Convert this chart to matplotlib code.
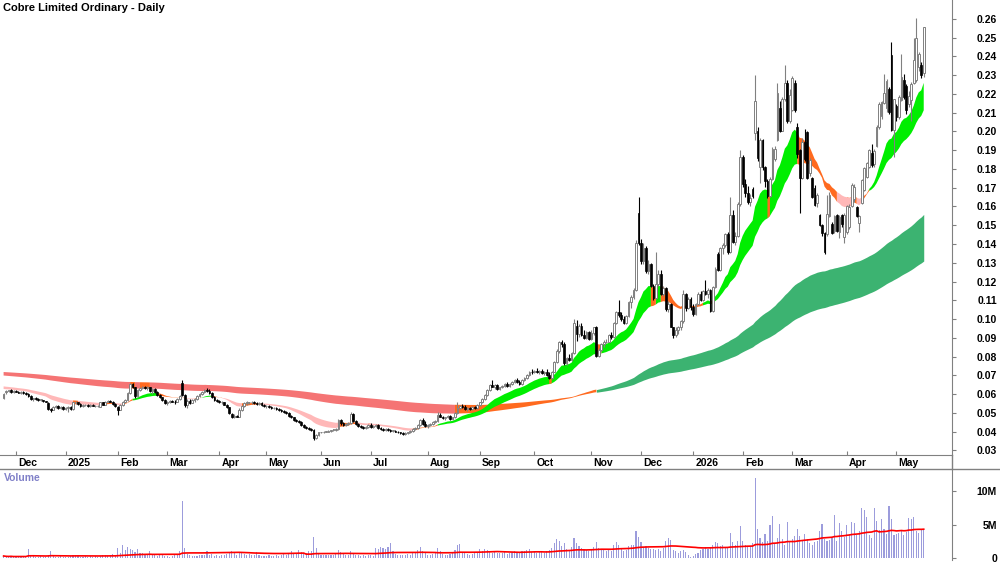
import numpy as np
import pandas as pd
import matplotlib
matplotlib.use("Agg")
import matplotlib.pyplot as plt
from matplotlib.lines import Line2D
from matplotlib.ticker import FuncFormatter

plt.rcParams['font.family'] = ['Liberation Sans', 'DejaVu Sans']
plt.rcParams['font.weight'] = 'bold'

title = "Cobre Limited Ordinary - Daily"

# ASX trading calendar for the period shown
asx_holidays = ["2024-12-25", "2024-12-26", "2025-01-01", "2025-01-27", "2025-04-18",
                "2025-04-21", "2025-04-25", "2025-06-09", "2025-12-25", "2025-12-26",
                "2026-01-01", "2026-01-26", "2026-04-03", "2026-04-06"]
dates = pd.bdate_range("2024-11-25", "2026-05-18", freq="C", holidays=asx_holidays)

# estimated closes before the first visible bar (only feed the moving averages)
prior_closes = [
    .076, .077, .076, .075, .076, .077, .076, .075, .074, .075,
    .076, .075, .074, .075, .076, .075, .074, .073, .074, .075,
    .074, .073, .074, .073, .072, .073, .074, .073, .072, .073,
    .073, .072, .071, .070, .071, .072, .071, .070, .071, .072,
    .071, .070, .071, .070, .069, .070, .071, .070, .069, .070,
    .070, .069, .068, .069, .068, .067, .068, .069, .068, .067,
    .068, .067, .068, .067, .066, .067, .068, .067, .066, .067,
    .068, .067, .066, .067, .066, .065, .066, .067, .066, .065,
    .066, .065, .066, .065, .064, .065, .066, .065, .064, .063,
    .064, .063, .064, .063, .062, .063, .062, .061, .062, .061,
]

opens = [
    .058, .061, .0615, .062, .061, .0615, .061, .0605, .061, .0605,
    .060, .059, .0575, .058, .0575, .057, .057, .0565, .055, .052,
    .0515, .053, .0535, .0525, .053, .052, .0525, .053, .052, .0555,
    .0555, .0545, .0535, .054, .054, .0535, .054, .0535, .0535, .053,
    .0555, .054, .056, .0565, .056, .0545, .053, .0515, .054, .056,
    .057, .0605, .0655, .0635, .059, .062, .063, .064, .063, .0635,
    .0615, .0625, .061, .0595, .0585, .057, .055, .0555, .0565, .056,
    .0555, .0575, .066, .0595, .054, .0565, .055, .057, .0575, .059,
    .060, .061, .062, .0615, .0605, .0585, .057, .0565, .0555, .0555,
    .054, .053, .0495, .048, .0485, .048, .0515, .0535, .055, .0555,
    .0555, .056, .055, .0545, .055, .054, .0535, .0535, .053, .0525,
    .0525, .052, .0515, .051, .0505, .050, .0485, .0475, .046, .0455,
    .045, .0435, .0425, .042, .0415, .041, .0365, .038, .0395, .0395,
    .040, .040, .0405, .041, .041, .0415, .046, .0445, .0435, .044,
    .0445, .0495, .0455, .044, .043, .0425, .042, .0425, .0435, .0425,
    .043, .0435, .042, .0415, .041, .0415, .041, .0405, .0405, .040,
    .0395, .039, .0385, .039, .0395, .0405, .0415, .042, .0435, .046,
    .044, .043, .0435, .044, .045, .0455, .049, .048, .047, .0475,
    .0485, .0465, .0475, .050, .0525, .0535, .053, .052, .0525, .052,
    .053, .0525, .054, .0555, .0575, .0595, .062, .065, .064, .065,
    .0625, .0635, .0645, .0655, .0645, .0655, .0665, .0675, .0665, .0655,
    .0675, .0685, .070, .072, .0715, .0725, .0715, .0725, .071, .072,
    .070, .0685, .072, .077, .083, .0875, .0865, .0765, .079, .078,
    .082, .0965, .092, .0965, .0915, .090, .093, .0895, .0925, .0955,
    .0805, .0835, .0865, .0875, .088, .0915, .0905, .098, .1035, .102,
    .100, .098, .1015, .109, .1115, .1155, .1565, .1405, .131, .138,
    .1255, .1295, .1175, .111, .1185, .124, .1135, .1165, .1055, .108,
    .096, .0915, .094, .0955, .099, .1135, .106, .1105, .1065, .1025,
    .108, .1135, .110, .115, .1135, .1155, .1045, .117, .1345, .126,
    .138, .1395, .1455, .1355, .1555, .141, .1445, .1615, .1865, .172,
    .167, .1625, .1695, .199, .2005, .181, .1955, .181, .1735, .1655,
    .1745, .1855, .1955, .2125, .2005, .2175, .226, .2055, .2115, .226,
    .2025, .190, .175, .1945, .1995, .178, .175, .170, .162, .1555,
    .150, .146, .1455, .155, .1505, .147, .1555, .1465, .1555, .144,
    .1465, .149, .160, .164, .1595, .151, .162, .169, .1755, .181,
    .1885, .1825, .192, .2025, .2085, .215, .2125, .2225, .2408, .2008,
    .2135, .2075, .217, .2275, .2245, .2145, .217, .226, .2275, .2345, .2355, .231,
]
highs = [
    .0605, .062, .062, .0625, .062, .062, .0615, .0615, .0615, .061,
    .0605, .0595, .058, .0585, .058, .0575, .057, .0565, .0555, .0525,
    .0535, .054, .054, .0535, .0535, .053, .0535, .0535, .056, .0565,
    .056, .055, .0545, .0545, .0545, .0545, .0545, .054, .054, .056,
    .056, .0565, .057, .057, .0565, .055, .0535, .0545, .0565, .0575,
    .061, .066, .066, .064, .0625, .0635, .0645, .0645, .0645, .064,
    .063, .063, .0615, .060, .0585, .0575, .0565, .057, .057, .057,
    .058, .0595, .0675, .060, .0575, .0575, .0575, .058, .0595, .0605,
    .0615, .0625, .063, .0625, .061, .059, .0575, .057, .0565, .056,
    .0545, .053, .050, .0495, .049, .0525, .054, .0555, .0565, .056,
    .0565, .0565, .0555, .0555, .0555, .0545, .054, .054, .0535, .053,
    .053, .0525, .052, .0515, .051, .0505, .049, .048, .0465, .046,
    .0455, .044, .043, .0425, .042, .0415, .0385, .040, .040, .0405,
    .0405, .041, .041, .0415, .042, .0465, .0465, .045, .0445, .045,
    .0505, .050, .046, .0445, .0435, .043, .043, .044, .0445, .0435,
    .044, .044, .0425, .042, .042, .042, .0415, .041, .041, .0405,
    .040, .0395, .0395, .040, .041, .042, .0425, .044, .0465, .047,
    .0455, .044, .0445, .0455, .046, .0505, .050, .0485, .048, .049,
    .049, .048, .0505, .0555, .054, .0545, .054, .053, .053, .0535,
    .0535, .0545, .056, .058, .060, .0625, .0655, .0675, .0655, .0655,
    .064, .065, .066, .0665, .066, .067, .068, .0685, .0675, .068,
    .069, .0705, .0725, .0735, .073, .074, .073, .0735, .0725, .0735,
    .0715, .0725, .0775, .084, .0885, .089, .0875, .080, .0815, .0825,
    .100, .0995, .0975, .098, .094, .0935, .0935, .094, .096, .0965,
    .0845, .087, .089, .0895, .092, .093, .0985, .1045, .110, .1035,
    .1015, .102, .1095, .113, .1165, .142, .165, .1425, .1405, .139,
    .1315, .130, .1185, .1355, .126, .126, .1175, .117, .1095, .1085,
    .096, .0955, .0965, .0995, .1155, .114, .112, .1115, .108, .1085,
    .1145, .115, .1155, .121, .1165, .116, .1175, .1275, .1355, .1385,
    .1405, .146, .1465, .165, .158, .1465, .1625, .190, .1875, .1745,
    .171, .1665, .1705, .230, .2025, .1965, .196, .1815, .1745, .1755,
    .1915, .192, .226, .2165, .2185, .2355, .2275, .2225, .2295, .2275,
    .2045, .1905, .1965, .2015, .2005, .186, .1755, .1715, .167, .156,
    .1505, .1465, .166, .1675, .1515, .1555, .156, .1555, .156, .1565,
    .161, .1615, .1725, .172, .160, .1555, .1745, .181, .1835, .1905,
    .1935, .1905, .2035, .2155, .2165, .2305, .228, .2235, .2477, .2175,
    .2145, .2195, .2415, .2305, .2255, .2215, .2265, .250, .2605, .2425, .237, .2557,
]
lows = [
    .0575, .060, .061, .0605, .0605, .061, .0605, .060, .060, .0595,
    .0585, .057, .0565, .057, .0565, .0565, .056, .0555, .0515, .0505,
    .0515, .0525, .052, .052, .0515, .0515, .0505, .0515, .0515, .0545,
    .054, .053, .053, .0535, .053, .053, .0535, .053, .053, .053,
    .054, .054, .0555, .0555, .054, .053, .049, .0515, .0535, .0555,
    .0565, .060, .063, .058, .0585, .0615, .0625, .0625, .062, .061,
    .060, .0605, .059, .058, .0565, .0545, .054, .055, .0555, .0545,
    .0555, .057, .059, .053, .0525, .0545, .055, .056, .057, .0585,
    .0595, .0605, .061, .060, .058, .0565, .056, .055, .0545, .054,
    .0525, .0495, .047, .047, .0475, .0475, .051, .053, .054, .0545,
    .0545, .0545, .054, .054, .0535, .053, .0525, .0525, .052, .052,
    .0515, .051, .0505, .050, .0495, .048, .047, .0455, .045, .0445,
    .043, .042, .0415, .041, .0405, .0355, .036, .0375, .039, .039,
    .0395, .0395, .040, .0405, .0405, .041, .0435, .043, .043, .0435,
    .044, .045, .0435, .0425, .042, .0415, .0415, .042, .042, .042,
    .0425, .0415, .041, .0405, .0405, .0405, .040, .0395, .0395, .039,
    .0385, .038, .038, .0385, .039, .040, .041, .0415, .043, .0435,
    .0425, .042, .043, .0435, .0445, .045, .0475, .0465, .046, .047,
    .046, .046, .047, .0495, .052, .0525, .0515, .051, .0515, .0515,
    .052, .052, .0535, .055, .057, .059, .0615, .0635, .0625, .062,
    .062, .063, .0635, .064, .064, .065, .066, .066, .065, .065,
    .067, .068, .0695, .0705, .071, .071, .0705, .0705, .070, .0695,
    .068, .068, .0715, .0765, .082, .085, .0755, .0755, .0775, .0775,
    .0815, .0885, .0905, .091, .0895, .0895, .089, .089, .0915, .0795,
    .080, .083, .085, .087, .0875, .0895, .090, .0975, .101, .099,
    .0975, .0975, .101, .106, .1105, .115, .1395, .1295, .1295, .1245,
    .124, .117, .110, .1105, .1175, .113, .1125, .1045, .1035, .0955,
    .090, .0905, .092, .094, .098, .1045, .1055, .105, .1015, .102,
    .1075, .1095, .1095, .113, .111, .1035, .104, .1165, .1255, .1255,
    .1345, .1385, .1345, .135, .1405, .1395, .1435, .1605, .1705, .165,
    .1615, .160, .1645, .1955, .1845, .1725, .1795, .1705, .1645, .165,
    .174, .1845, .195, .1995, .200, .2165, .2045, .2045, .211, .2105,
    .186, .1565, .1745, .184, .1745, .1765, .1645, .1605, .1595, .1495,
    .1445, .1345, .1445, .1545, .1455, .146, .1465, .143, .149, .1405,
    .1455, .148, .1595, .1625, .1545, .1465, .1615, .168, .175, .1805,
    .181, .181, .1915, .2015, .2065, .2145, .2105, .2095, .2005, .1865,
    .2055, .2065, .2165, .2175, .2095, .213, .2055, .2255, .2265, .232, .2285, .229,
]
closes = [
    .060, .0615, .062, .061, .0615, .061, .0605, .061, .0605, .060,
    .059, .0575, .058, .0575, .057, .057, .0565, .056, .052, .0515,
    .053, .0535, .0525, .053, .052, .0525, .053, .052, .0555, .0555,
    .0545, .0535, .054, .054, .0535, .054, .0535, .0535, .0535, .0555,
    .054, .056, .0565, .056, .0545, .0535, .0515, .054, .056, .057,
    .0605, .0655, .064, .059, .062, .063, .064, .063, .0635, .0615,
    .0625, .061, .0595, .0585, .057, .055, .0555, .0565, .056, .0555,
    .0575, .059, .0595, .054, .0565, .055, .057, .0575, .059, .060,
    .061, .062, .0615, .0605, .0585, .057, .0565, .0555, .0555, .054,
    .053, .050, .048, .0485, .048, .0515, .0535, .055, .0555, .0555,
    .056, .055, .0545, .055, .054, .0535, .0535, .053, .0525, .0525,
    .052, .0515, .051, .0505, .050, .0485, .0475, .046, .0455, .045,
    .0435, .0425, .042, .0415, .041, .0365, .038, .0395, .0395, .040,
    .040, .0405, .041, .041, .0415, .046, .0445, .0435, .044, .0445,
    .0495, .0455, .044, .043, .0425, .042, .0425, .0435, .0425, .043,
    .0435, .042, .0415, .041, .0415, .041, .0405, .0405, .040, .0395,
    .039, .0385, .039, .0395, .0405, .0415, .042, .0435, .046, .044,
    .043, .0435, .044, .045, .0455, .049, .048, .047, .0475, .0485,
    .0465, .0475, .050, .0525, .0535, .053, .052, .0525, .052, .053,
    .0525, .054, .0555, .0575, .0595, .062, .065, .064, .065, .0625,
    .0635, .0645, .0655, .0645, .0655, .0665, .0675, .0665, .0655, .0675,
    .0685, .070, .072, .0715, .0725, .0715, .0725, .071, .072, .070,
    .0685, .072, .077, .083, .0875, .0865, .0765, .079, .078, .082,
    .098, .092, .0965, .0915, .090, .093, .0895, .0925, .0955, .0805,
    .0835, .0865, .0875, .088, .0915, .0905, .098, .1035, .102, .100,
    .098, .1015, .109, .1115, .1155, .1405, .1405, .131, .138, .1255,
    .1295, .1175, .111, .1185, .124, .1135, .1165, .1055, .108, .096,
    .0915, .094, .0955, .099, .1135, .106, .1105, .1065, .1025, .108,
    .1135, .110, .115, .1135, .1155, .1045, .117, .1265, .126, .138,
    .1395, .1455, .1355, .1555, .141, .1445, .1615, .1865, .172, .167,
    .1625, .1645, .1655, .216, .186, .1955, .181, .1735, .1655, .1745,
    .1905, .1905, .2205, .2005, .2175, .226, .2055, .2195, .2285, .2115,
    .188, .175, .1945, .1855, .175, .1848, .165, .161, .166, .150,
    .146, .1355, .156, .166, .146, .155, .147, .1545, .1505, .1555,
    .160, .1595, .1715, .1705, .155, .155, .174, .1805, .183, .190,
    .182, .1895, .2025, .2145, .2155, .2205, .227, .2105, .201, .2175,
    .2075, .2185, .229, .2185, .2115, .219, .2255, .238, .250, .2415, .230, .2557,
]
# volume in millions of shares
volumes = [
    0.3, 0.2, 0.2, 0.3, 0.1, 0.2, 0.2, 0.3, 0.2, 0.2,
    1.4, 0.4, 0.3, 0.2, 0.2, 0.3, 0.2, 0.2, 0.5, 1.0,
    0.3, 0.2, 0.2, 0.3, 0.2, 0.1, 0.2, 0.3, 0.5, 0.4,
    0.3, 0.2, 0.2, 0.3, 0.2, 0.3, 0.2, 0.3, 0.2, 0.3,
    0.5, 0.4, 0.3, 0.4, 0.6, 0.5, 1.5, 0.8, 1.9, 1.2,
    1.6, 1.4, 1.2, 0.9, 1.3, 0.7, 0.8, 0.6, 0.4, 1.0,
    0.5, 0.4, 0.3, 0.4, 0.5, 0.3, 0.3, 0.2, 0.3, 0.4,
    0.5, 1.0, 8.5, 1.5, 0.6, 0.4, 0.3, 0.3, 0.3, 0.4,
    0.4, 0.5, 1.0, 0.5, 0.6, 0.3, 0.4, 0.3, 0.4, 0.5,
    0.6, 0.9, 1.0, 0.8, 0.5, 0.8, 0.9, 0.6, 0.5, 0.6,
    0.5, 0.4, 0.9, 0.4, 0.3, 0.3, 0.3, 0.4, 0.3, 0.3,
    0.4, 0.3, 0.4, 0.6, 0.5, 0.8, 1.0, 0.7, 0.6, 1.2,
    0.9, 0.7, 0.8, 1.1, 1.0, 3.1, 1.5, 0.6, 0.5, 0.4,
    0.4, 0.4, 0.5, 0.5, 0.6, 1.2, 0.9, 0.6, 0.4, 0.5,
    1.0, 0.7, 0.5, 0.4, 0.3, 0.4, 0.3, 0.4, 0.5, 0.3,
    1.5, 1.4, 1.7, 1.5, 1.3, 1.6, 2.2, 1.0, 0.6, 0.5,
    0.4, 0.5, 0.4, 0.6, 0.5, 0.7, 0.9, 1.2, 1.7, 1.0,
    0.8, 0.5, 0.4, 0.6, 0.7, 1.5, 1.0, 0.6, 0.5, 0.4,
    0.6, 0.7, 1.2, 2.0, 2.1, 0.9, 0.7, 0.6, 0.5, 0.6,
    0.7, 0.9, 1.3, 1.1, 1.4, 1.2, 0.9, 0.8, 1.0, 0.7,
    0.8, 0.7, 0.9, 0.6, 0.8, 0.9, 1.0, 0.8, 0.7, 1.1,
    1.0, 1.2, 1.3, 0.9, 1.0, 0.8, 1.1, 0.9, 0.8, 1.0,
    1.2, 1.5, 2.2, 2.8, 2.5, 1.8, 2.3, 1.4, 1.2, 1.6,
    3.0, 2.2, 1.8, 1.5, 1.3, 1.2, 1.1, 1.4, 1.6, 2.4,
    1.5, 1.3, 1.2, 1.0, 1.4, 1.1, 2.0, 2.4, 2.0, 1.3,
    1.1, 1.2, 1.8, 1.9, 2.0, 4.0, 3.2, 2.4, 1.7, 1.8,
    1.5, 1.4, 1.3, 1.2, 1.4, 1.0, 1.5, 2.6, 3.0, 2.7,
    1.2, 1.0, 0.8, 1.1, 1.2, 0.9, 0.4, 0.2, 0.3, 0.6,
    0.8, 1.2, 1.3, 1.6, 1.4, 1.5, 2.0, 2.4, 2.2, 1.8,
    1.9, 1.5, 1.7, 3.7, 2.4, 1.9, 2.5, 4.8, 2.6, 2.0,
    1.6, 1.8, 2.2, 12.0, 4.4, 3.0, 2.4, 3.6, 2.6, 5.0,
    6.3, 2.2, 3.0, 5.1, 2.8, 2.0, 5.4, 2.6, 2.9, 3.3,
    4.4, 3.3, 2.5, 3.6, 2.9, 2.2, 2.0, 2.4, 2.6, 4.0,
    5.1, 2.8, 2.5, 2.7, 3.0, 6.5, 2.6, 5.2, 4.0, 3.2,
    5.0, 3.6, 5.4, 5.3, 3.5, 4.1, 7.4, 7.1, 6.1, 3.5,
    3.0, 7.4, 5.5, 4.2, 5.8, 4.4, 3.6, 7.7, 5.8, 3.5,
    3.6, 3.8, 4.2, 3.5, 3.9, 6.0, 5.8, 6.2, 4.0, 3.8, 4.3, 4.4,
]

short_periods = [16, 19, 22, 25, 28, 31]
long_periods = [150, 175, 200, 225, 250]

n = len(closes)
assert len(opens) == len(highs) == len(lows) == n == len(volumes) == len(dates)

x = np.arange(n)
o = np.array(opens)
h = np.array(highs)
l = np.array(lows)
c = np.array(closes)
vol = np.array(volumes) * 1e6

all_close = pd.Series(prior_closes + closes)


def ribbon(periods):
    m = np.array([all_close.ewm(span=p, adjust=False).mean().values for p in periods])
    slope = np.diff(m[0])[len(prior_closes) - 1:]
    m = m[:, len(prior_closes):]
    d = np.diff(m, axis=0)
    bull = (d < 0).all(axis=0) & (slope > 0)
    bear = (d > 0).all(axis=0) & (slope < 0)
    state = np.where(bull, 0, np.where(bear, 2, 1))
    return m.min(axis=0), m.max(axis=0), state


def draw_ribbon(ax, periods, colours):
    lo, hi, state = ribbon(periods)
    for s, col in enumerate(colours):
        mask = state == s
        ext = mask.copy()
        ext[1:] |= mask[:-1]
        ax.fill_between(x, lo, hi, where=ext, color=col, lw=0, zorder=1)


fig = plt.figure(figsize=(10, 5.62), dpi=100)
ax = fig.add_axes([0, 1 - 455 / 562, 0.952, 455 / 562])
axv = fig.add_axes([0, 2 / 562, 0.952, 91 / 562])

# moving average ribbons
draw_ribbon(ax, long_periods, ['#3cb371', '#ff6a1f', '#f57474'])
draw_ribbon(ax, short_periods, ['#00ee00', '#ff6a1f', '#ffb8b8'])

# candles
up = c >= o
ax.vlines(x[up], l[up], h[up], color='#808080', lw=0.8, zorder=3)
ax.vlines(x[~up], l[~up], h[~up], color='black', lw=0.8, zorder=3)
body_lo = np.minimum(o, c)
body_h = np.maximum(np.abs(c - o), 0.0003)
ax.bar(x[up], body_h[up], bottom=body_lo[up], width=0.7, color='white',
       edgecolor='#808080', lw=0.7, zorder=4)
ax.bar(x[~up], body_h[~up], bottom=body_lo[~up], width=0.7, color='black',
       edgecolor='black', lw=0.5, zorder=4)

xlim = (-1.45, 382.4)
ax.set_xlim(*xlim)
ax.set_ylim(0.0275, 0.2701)

# month ticks
month_idx = [i for i in range(n) if i == 0 or dates[i].month != dates[i - 1].month]
month_idx = [i for i in month_idx if dates[i].day <= 5]
ax.set_xticks(month_idx)
ax.set_xticklabels([])
ax.tick_params(axis='x', direction='in', length=3, color='#808080')
for i in month_idx:
    lab = str(dates[i].year) if dates[i].month == 1 else dates[i].strftime('%b')
    ax.text(i + 0.9, -8 / 455, lab, transform=ax.get_xaxis_transform(),
            ha='left', va='center', fontsize=7.5, fontweight='bold', clip_on=False)

yt = np.round(np.arange(0.03, 0.2601, 0.01), 2)
ax.set_yticks(yt)
ax.yaxis.tick_right()
ax.yaxis.set_major_formatter(FuncFormatter(lambda v, p: f"{v:.2f}"))
ax.tick_params(axis='y', direction='out', length=3, pad=29.4, color='#808080',
               labelsize=7.5)
for lbl in ax.get_yticklabels():
    lbl.set_horizontalalignment('right')

for a in (ax, axv):
    a.spines['top'].set_visible(False)
    a.spines['left'].set_visible(False)
    a.spines['right'].set_color('#808080')
    a.set_facecolor('none')
ax.spines['bottom'].set_color('#808080')
axv.spines['bottom'].set_visible(False)

# volume panel
axv.bar(x, vol, width=0.45, color='#9c9cdc', lw=0, zorder=2)
vol_ma = pd.Series(vol).rolling(50, min_periods=1).mean()
axv.plot(x, vol_ma, color='red', lw=1.2, zorder=3)
axv.set_xlim(*xlim)
axv.set_ylim(-0.3e6, 13.3e6)
axv.set_xticks([])
axv.set_yticks([0, 5e6, 10e6])
axv.yaxis.tick_right()
axv.yaxis.set_major_formatter(FuncFormatter(lambda v, p: "0" if v == 0 else f"{v / 1e6:.0f}M"))
axv.tick_params(axis='y', direction='out', length=3, pad=29.4, color='#808080',
                labelsize=7.5)
for lbl in axv.get_yticklabels():
    lbl.set_horizontalalignment('right')

# frame lines between panels
fig.add_artist(Line2D([0, 1], [1 - 469 / 562] * 2, color='#808080', lw=1))
fig.add_artist(Line2D([0.952, 0.952], [1 - 469 / 562, 1 - 455 / 562], color='#808080', lw=1))

fig.text(0.003, 1 - 3 / 562, title, ha='left', va='top', fontsize=8, fontweight='bold')
fig.text(0.004, 1 - 478 / 562, "Volume", ha='left', va='center', fontsize=7.5,
         fontweight='bold', color='#8080c8')

fig.savefig("out.png", dpi=100)
